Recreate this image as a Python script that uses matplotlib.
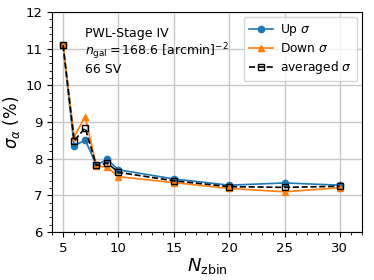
import matplotlib
matplotlib.use("Agg")
import matplotlib.pyplot as plt
from matplotlib.ticker import MultipleLocator

nzbin = [5, 6, 7, 8, 9, 10, 15, 20, 25, 30]
sigma_up = [11.1, 8.35, 8.51, 7.83, 7.98, 7.70, 7.45, 7.28, 7.34, 7.28]
sigma_down = [11.1, 8.60, 9.15, 7.81, 7.77, 7.51, 7.35, 7.19, 7.10, 7.21]
sigma_avg = [11.1, 8.49, 8.84, 7.82, 7.88, 7.63, 7.40, 7.24, 7.22, 7.25]

fig = plt.figure(figsize=(3.74, 2.8), dpi=100)
ax = fig.add_axes([0.139, 0.171, 0.829, 0.786])

ax.plot(nzbin, sigma_up, '-o', color='#1f77b4', ms=4.5, lw=1.2, label=r'Up $\sigma$')
ax.plot(nzbin, sigma_down, '-^', color='#ff7f0e', ms=4.5, lw=1.2, label=r'Down $\sigma$')
ax.plot(nzbin, sigma_avg, '--s', color='black', ms=4.5, lw=1.2, mfc='none', label=r'averaged $\sigma$')

ax.set_xlim(4, 32)
ax.set_ylim(6, 12)
ax.xaxis.set_major_locator(MultipleLocator(5))
ax.xaxis.set_minor_locator(MultipleLocator(1))
ax.yaxis.set_major_locator(MultipleLocator(1))
ax.yaxis.set_minor_locator(MultipleLocator(0.2))
ax.tick_params(labelsize=9.5)
ax.grid(True, which='major', color='#c8c8c8', lw=1)
ax.set_axisbelow(True)

ax.set_xlabel(r'$N_{\rm zbin}$', fontsize=13, labelpad=1)
ax.set_ylabel(r'$\sigma_{\alpha}$ (%)', fontsize=12, labelpad=2)

ax.text(7.0, 11.6, 'PWL-Stage IV\n' + r'$n_{\rm gal}=168.6$ [arcmin]$^{-2}$' + '\n66 SV',
        fontsize=9, va='top', ha='left', linespacing=1.1)

ax.legend(loc='upper right', fontsize=8.8, handlelength=2.0, labelspacing=0.35,
          borderaxespad=0.4, handletextpad=0.6)

fig.savefig('out.png', dpi=100)
